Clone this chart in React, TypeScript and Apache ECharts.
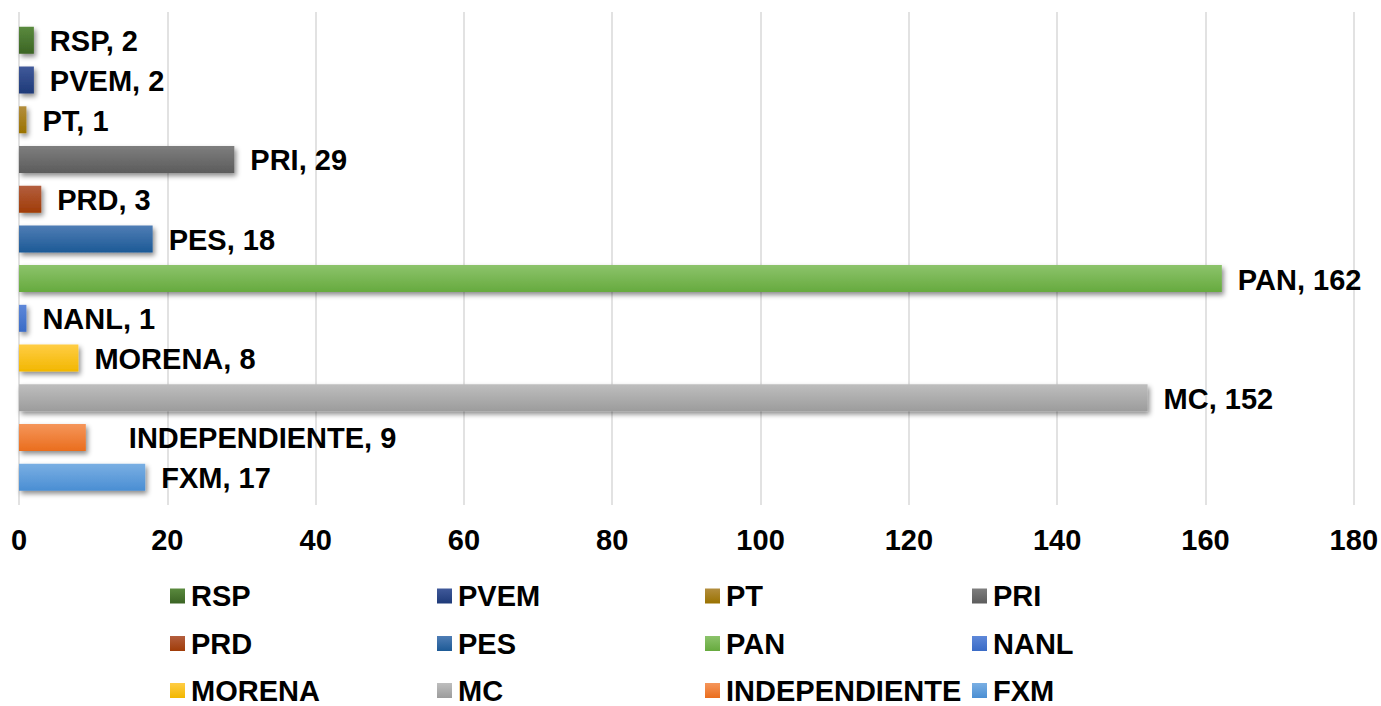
import React, { useEffect, useRef } from "react";
import * as echarts from "echarts";

// Parties listed bottom-to-top as drawn on the category axis
const categories = ["FXM", "INDEPENDIENTE", "MC", "MORENA", "NANL", "PAN", "PES", "PRD", "PRI", "PT", "PVEM", "RSP"];
const values = [17, 9, 152, 8, 1, 162, 18, 3, 29, 1, 2, 2];
// Legend order (row by row, 4 per row)
const legendOrder = ["RSP", "PVEM", "PT", "PRI", "PRD", "PES", "PAN", "NANL", "MORENA", "MC", "INDEPENDIENTE", "FXM"];
const xTicks = [0, 20, 40, 60, 80, 100, 120, 140, 160, 180];

const colorTop: Record<string, string> = {
  RSP: "#5a8a3e", PVEM: "#40599a", PT: "#b38e3e", PRI: "#7e7e7e", PRD: "#b35e3e", PES: "#4f7db5",
  PAN: "#8cc36b", NANL: "#5e88d9", MORENA: "#ffcd45", MC: "#bebebe", INDEPENDIENTE: "#f5965b", FXM: "#7aafe3",
};
const colorBottom: Record<string, string> = {
  RSP: "#3b6424", PVEM: "#1e3a78", PT: "#9a7200", PRI: "#5c5c5c", PRD: "#a03c08", PES: "#1d5a96",
  PAN: "#66aa3e", NANL: "#3a6bc6", MORENA: "#f2b700", MC: "#9c9c9c", INDEPENDIENTE: "#ea6d1d", FXM: "#4a8ed3",
};
const labelShift: Record<string, number> = { INDEPENDIENTE: 27 };

const FONT = "Arial, 'Liberation Sans', sans-serif";
const FS = 29;

function grad(name: string) {
  return new echarts.graphic.LinearGradient(0, 0, 0, 1, [
    { offset: 0, color: colorTop[name] },
    { offset: 1, color: colorBottom[name] },
  ]);
}

export default function App() {
  const ref = useRef<HTMLDivElement>(null);
  useEffect(() => {
    document.body.style.margin = "0";
    if (!ref.current) return;
    const chart = echarts.init(ref.current, null, { renderer: "svg" });

    const series = categories.map((name, i) => ({
      name,
      type: "bar",
      stack: "all",
      xAxisIndex: 1,
      yAxisIndex: 1,
      barWidth: 27,
      data: categories.map((c, j) => (j === i ? values[i] : "-")),
      itemStyle: {
        color: grad(name),
        shadowColor: "rgba(0,0,0,0.45)",
        shadowBlur: 5,
        shadowOffsetX: 2,
        shadowOffsetY: 3,
      },
      label: {
        show: true,
        position: "right",
        distance: 16,
        offset: [labelShift[name] || 0, 1],
        formatter: "{a}, {c}",
        fontFamily: FONT,
        fontSize: FS,
        fontWeight: "bold",
        color: "#000",
      },
    }));

    const colLeft = [170, 437, 705, 972];
    const rowCenter = [597.5, 645, 692];
    const legends = legendOrder.map((name, k) => ({
      data: [name],
      left: colLeft[k % 4],
      top: rowCenter[Math.floor(k / 4)] - 16,
      padding: 0,
      icon: "rect",
      itemWidth: 15,
      itemHeight: 15,
      selectedMode: false,
      textStyle: { fontFamily: FONT, fontSize: FS, fontWeight: "bold", color: "#000", padding: [0, 0, 0, 1] },
    }));

    chart.setOption({
      animation: false,
      backgroundColor: "#fff",
      grid: [
        { left: 19, right: 25.5, top: 12, bottom: 201 },
        { left: 19, right: 25.5, top: 20.5, bottom: 209 },
      ],
      xAxis: [
        {
          type: "value",
          gridIndex: 0,
          min: xTicks[0],
          max: xTicks[xTicks.length - 1],
          interval: xTicks[1] - xTicks[0],
          axisLine: { show: false },
          axisTick: { show: false },
          splitLine: { show: true, lineStyle: { color: "#d9d9d9", width: 1.5 } },
          axisLabel: { margin: 20, fontFamily: FONT, fontSize: FS, fontWeight: "bold", color: "#000" },
        },
        {
          type: "value",
          gridIndex: 1,
          min: xTicks[0],
          max: xTicks[xTicks.length - 1],
          show: false,
        },
      ],
      yAxis: [
        { type: "category", gridIndex: 0, data: categories, show: false },
        { type: "category", gridIndex: 1, data: categories, show: false },
      ],
      legend: legends,
      series,
    });
    return () => chart.dispose();
  }, []);
  return <div ref={ref} style={{ width: 1381, height: 706 }} />;
}
